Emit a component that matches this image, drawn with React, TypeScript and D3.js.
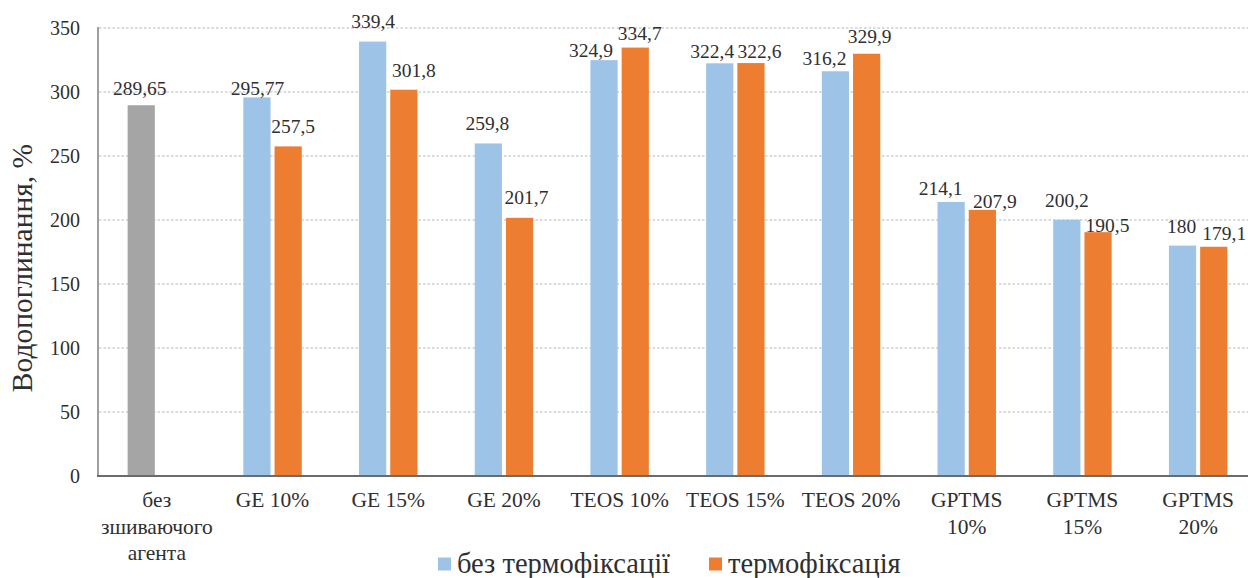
import React from "react";
import * as d3 from "d3";

const categories: string[][] = [
  ["без", "зшиваючого", "агента"],
  ["GE 10%"],
  ["GE 15%"],
  ["GE 20%"],
  ["TEOS 10%"],
  ["TEOS 15%"],
  ["TEOS 20%"],
  ["GPTMS", "10%"],
  ["GPTMS", "15%"],
  ["GPTMS", "20%"],
];

const seriesNames = ["без термофіксації", "термофіксація"];

const withoutFixation: (number | null)[] = [289.65, 295.77, 339.4, 259.8, 324.9, 322.4, 316.2, 214.1, 200.2, 180];
const withFixation: (number | null)[] = [null, 257.5, 301.8, 201.7, 334.7, 322.6, 329.9, 207.9, 190.5, 179.1];

const yTicks = [0, 50, 100, 150, 200, 250, 300, 350];

const yTitle = "Водопоглинання, %";

// hand-placed label offsets [dx, dy] relative to bar centre / top
const labelNudge: [number, number][][] = [
  [[-1.5, -10], [0.5, -2], [0.5, -13.5], [-1, -13], [-13, -3], [-7.5, -5], [-11, -6], [-10.5, -7], [0, -12.7], [-1, -12.6]],
  [[0, 0], [5, -13], [10, -12.7], [7, -14], [4.5, -7.6], [8.5, -5], [3, -10.7], [12.5, -2], [9.5, 0], [10.5, -7]],
];

const COLORS = ["#9dc3e6", "#ed7d31"];
const FIRST_COLOR = "#a5a5a5";
const FONT = "'Liberation Serif', 'Times New Roman', serif";
const TEXT = "#2f2f2f";

const W = 1248;
const H = 578;

export default function App() {
  const ids = categories.map((_, i) => String(i));
  const x = d3.scaleBand<string>().domain(ids).range([99, 1256]).padding(0);
  const y = d3.scaleLinear().domain([0, 350]).range([476, 28]);

  const bw = x.bandwidth();
  const barW = bw * 0.22;
  const innerGap = bw * 0.065;
  const group = d3
    .scaleBand<number>()
    .domain([0, 1])
    .range([(bw - (2 * barW + innerGap)) / 2, (bw + (2 * barW + innerGap)) / 2])
    .paddingInner(innerGap / (barW + innerGap / 2) / 2);

  const series = [withoutFixation, withFixation];
  const fmt = (v: number) => String(v).replace(".", ",");

  return (
    <svg
      width={W}
      height={H}
      style={{ position: "absolute", left: 0, top: 0, background: "#fff", fontFamily: FONT }}
    >
      {/* gridlines */}
      {yTicks.slice(1).map((t) => (
        <line
          key={t}
          x1={99}
          x2={W}
          y1={y(t)}
          y2={y(t)}
          stroke="#cfcfcf"
          strokeWidth={1.3}
          strokeDasharray="2.5,2"
        />
      ))}

      {/* y tick labels */}
      {yTicks.map((t) => (
        <text
          key={t}
          x={80}
          y={y(t)}
          dy="0.35em"
          textAnchor="end"
          fontSize={20}
          fill={TEXT}
        >
          {t}
        </text>
      ))}

      {/* y title */}
      <text
        transform={`translate(32,${268}) rotate(-90)`}
        textAnchor="middle"
        fontSize={29.5}
        fill={TEXT}
      >
        {yTitle}
      </text>

      {/* bars */}
      {series.map((vals, s) =>
        vals.map((v, i) => {
          if (v == null) return null;
          const bx = (x(String(i)) as number) + (group(s) as number);
          const fill = i === 0 && s === 0 ? FIRST_COLOR : COLORS[s];
          return (
            <rect
              key={`b${s}-${i}`}
              x={bx}
              y={y(v)}
              width={group.bandwidth()}
              height={y(0) - y(v)}
              fill={fill}
            />
          );
        })
      )}

      {/* value labels */}
      {series.map((vals, s) =>
        vals.map((v, i) => {
          if (v == null) return null;
          const cx = (x(String(i)) as number) + (group(s) as number) + group.bandwidth() / 2;
          const [dx, dy] = labelNudge[s][i];
          return (
            <text
              key={`l${s}-${i}`}
              x={cx + dx}
              y={y(v) + dy}
              textAnchor="middle"
              fontSize={19.5}
              fill={TEXT}
            >
              {fmt(v)}
            </text>
          );
        })
      )}

      {/* axes lines */}
      <line x1={98} x2={98} y1={27} y2={477} stroke="#7f7f7f" strokeWidth={1.5} />
      <line x1={97} x2={W} y1={y(0)} y2={y(0)} stroke="#6b6b6b" strokeWidth={2} />

      {/* category labels */}
      {categories.map((lines, i) => {
        const cx = (x(String(i)) as number) + bw / 2;
        return (
          <text key={`c${i}`} textAnchor="middle" fontSize={21.5} fill={TEXT}>
            {lines.map((ln, k) => (
              <tspan key={k} x={cx} y={507 + k * 26.5}>
                {ln}
              </tspan>
            ))}
          </text>
        );
      })}

      {/* legend */}
      <rect x={438} y={557.5} width={13} height={13} fill={COLORS[0]} />
      <text x={457} y={573} fontSize={28.5} fill={TEXT}>
        {seriesNames[0]}
      </text>
      <rect x={709} y={557.5} width={13} height={13} fill={COLORS[1]} />
      <text x={728} y={573} fontSize={28.5} fill={TEXT}>
        {seriesNames[1]}
      </text>
    </svg>
  );
}
